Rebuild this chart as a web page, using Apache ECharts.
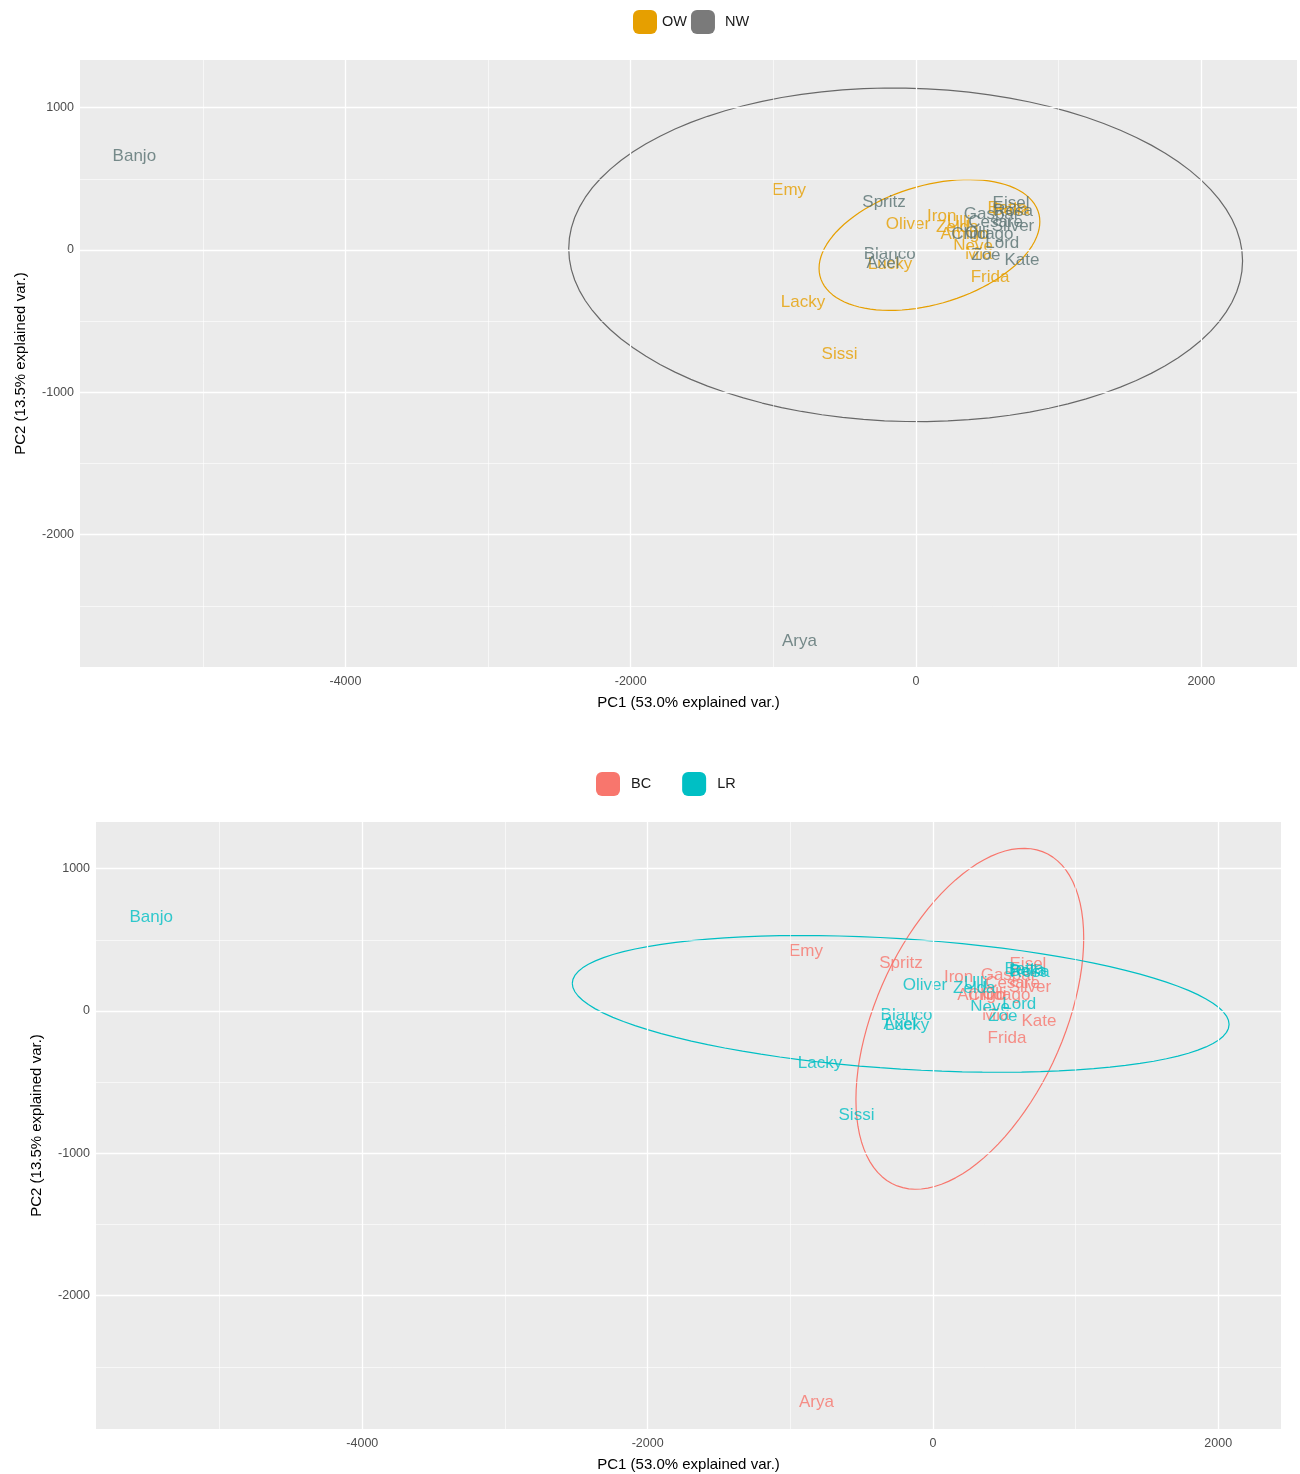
<!DOCTYPE html>
<html>
<head>
<meta charset="utf-8">
<title>PCA biplot</title>
<script src="https://cdn.jsdelivr.net/npm/echarts@6/dist/echarts.min.js"></script>
<style>
  html, body { margin: 0; padding: 0; background: #ffffff; }
  #chart { width: 1300px; height: 1474px; }
</style>
</head>
<body>
<div id="chart"></div>
<script>
// Sample names and their scores on the first two principal components
const names = ['Banjo', 'Arya', 'Emy', 'Spritz', 'Oliver', 'Iron', 'Ulli', 'Zelda', 'Gaspar', 'Eisel',
  'Bella', 'Betta', 'Rosa', 'Cesare', 'Silver', 'Chicago', 'Olli', 'Amigo', 'Lord', 'Neve', 'Mia', 'Zoe',
  'Kate', 'Frida', 'Blanco', 'Axel', 'Lucky', 'Lacky', 'Sissi'];
const pc1 = [-5480, -817, -890, -224, -56, 180, 300, 290, 530, 666,
  666, 640, 680, 558, 680, 465, 430, 340, 605, 400, 440, 490,
  743, 519, -185, -231, -182, -792, -536];
const pc2 = [657, -2750, 422, 337, 183, 240, 195, 158, 253, 325,
  280, 290, 270, 197, 165, 108, 115, 112, 46, 25, -28, -35,
  -70, -190, -28, -95, -100, -365, -731];
// Grouping used in the upper plot
const groupTop = ['NW', 'NW', 'OW', 'NW', 'OW', 'OW', 'OW', 'OW', 'NW', 'NW',
  'OW', 'OW', 'NW', 'NW', 'NW', 'NW', 'NW', 'OW', 'NW', 'OW', 'OW', 'NW',
  'NW', 'OW', 'NW', 'NW', 'OW', 'OW', 'OW'];
// Grouping used in the lower plot
const groupBottom = ['LR', 'BC', 'BC', 'BC', 'LR', 'BC', 'LR', 'LR', 'BC', 'BC',
  'LR', 'LR', 'LR', 'BC', 'BC', 'BC', 'BC', 'BC', 'LR', 'LR', 'BC', 'LR',
  'BC', 'BC', 'LR', 'LR', 'LR', 'LR', 'LR'];

const topLevels = ['OW', 'NW'];
const bottomLevels = ['BC', 'LR'];

// Axis ticks
const xMajorTicks = [-4000, -2000, 0, 2000];
const xMinorTicks = [-5000, -3000, -1000, 1000];
const yMajorTicks = [1000, 0, -1000, -2000];
const yMinorTicks = [500, -500, -1500, -2500];

const colors = {
  OW: { line: '#E69F00', text: '#E69F00', key: '#E69F00' },
  NW: { line: '#686868', text: '#587070', key: '#7A7A7A' },
  BC: { line: '#F8766D', text: '#F8766D', key: '#F8766D' },
  LR: { line: '#00BFC4', text: '#00BFC4', key: '#00BFC4' }
};

const FONT = "'Liberation Sans', Arial, sans-serif";

// Normal-probability ellipse (68%) of a group's scores, as drawn by ggbiplot
function groupEllipse(xs, ys) {
  const n = xs.length;
  const mx = xs.reduce((a, b) => a + b, 0) / n;
  const my = ys.reduce((a, b) => a + b, 0) / n;
  let sxx = 0, syy = 0, sxy = 0;
  for (let i = 0; i < n; i++) {
    sxx += (xs[i] - mx) * (xs[i] - mx);
    syy += (ys[i] - my) * (ys[i] - my);
    sxy += (xs[i] - mx) * (ys[i] - my);
  }
  sxx /= (n - 1); syy /= (n - 1); sxy /= (n - 1);
  const a = Math.sqrt(sxx);
  const b = sxy / a;
  const c = Math.sqrt(Math.max(syy - b * b, 0));
  const ed = Math.sqrt(-2 * Math.log(1 - 0.68));
  const pts = [];
  for (let k = 0; k <= 100; k++) {
    const t = -Math.PI + 2 * Math.PI * k / 100;
    const u = Math.cos(t), v = Math.sin(t);
    pts.push([mx + ed * u * a, my + ed * (u * b + v * c)]);
  }
  return pts;
}

function gridLinesSeries(idx) {
  const lines = [];
  xMajorTicks.forEach(v => lines.push({ xAxis: v, lineStyle: { width: 1.3 } }));
  xMinorTicks.forEach(v => lines.push({ xAxis: v, lineStyle: { width: 0.6 } }));
  yMajorTicks.forEach(v => lines.push({ yAxis: v, lineStyle: { width: 1.3 } }));
  yMinorTicks.forEach(v => lines.push({ yAxis: v, lineStyle: { width: 0.6 } }));
  return {
    type: 'scatter', xAxisIndex: idx, yAxisIndex: idx, z: 1,
    silent: true, symbolSize: 0, data: [],
    markLine: {
      silent: true, symbol: ['none', 'none'], animation: false,
      label: { show: false },
      lineStyle: { color: '#FFFFFF', type: 'solid' },
      data: lines
    }
  };
}

function groupSeries(idx, groups, level) {
  const xs = [], ys = [], items = [];
  for (let i = 0; i < names.length; i++) {
    if (groups[i] !== level) continue;
    xs.push(pc1[i]); ys.push(pc2[i]);
    items.push([pc1[i], pc2[i], names[i]]);
  }
  return [
    {
      name: level, type: 'line', xAxisIndex: idx, yAxisIndex: idx, z: 3,
      data: groupEllipse(xs, ys), showSymbol: false, symbol: 'none', smooth: false,
      silent: true, animation: false,
      lineStyle: { color: colors[level].line, width: 1.2 },
      itemStyle: { color: colors[level].key }
    },
    {
      name: level, type: 'scatter', xAxisIndex: idx, yAxisIndex: idx, z: 4,
      data: items, symbol: 'circle', symbolSize: 1, silent: true, animation: false,
      itemStyle: { color: 'rgba(0,0,0,0)' },
      label: {
        show: true, position: 'inside', formatter: p => p.value[2],
        color: colors[level].text, fontSize: 17, fontFamily: FONT
      }
    }
  ];
}

function xAxisDef(idx, min, max) {
  return {
    type: 'value', gridIndex: idx, min: min, max: max,
    name: 'PC1 (53.0% explained var.)', nameLocation: 'middle', nameGap: 28,
    nameTextStyle: { color: '#000000', fontSize: 15, fontFamily: FONT },
    axisLine: { show: false },
    axisTick: { show: true, customValues: xMajorTicks, length: 4, lineStyle: { color: '#333333', width: 1 } },
    axisLabel: { customValues: xMajorTicks, formatter: v => String(v), color: '#4D4D4D', fontSize: 12.5, fontFamily: FONT, margin: 8 },
    splitLine: { show: false }
  };
}

function yAxisDef(idx, min, max) {
  return {
    type: 'value', gridIndex: idx, min: min, max: max,
    name: 'PC2 (13.5% explained var.)', nameLocation: 'middle', nameGap: 52,
    nameTextStyle: { color: '#000000', fontSize: 15, fontFamily: FONT },
    axisLine: { show: false },
    axisTick: { show: true, customValues: yMajorTicks, length: 4, lineStyle: { color: '#333333', width: 1 } },
    axisLabel: { customValues: yMajorTicks, formatter: v => String(v), color: '#4D4D4D', fontSize: 12.5, fontFamily: FONT, margin: 6 },
    splitLine: { show: false }
  };
}

// textPads: extra space between each key and its text
function legendDef(levels, left, top, gap, textPads) {
  return {
    left: left, top: top, orient: 'horizontal', itemWidth: 24, itemHeight: 24, itemGap: gap,
    selectedMode: false,
    textStyle: { color: '#1A1A1A', fontSize: 14.5, fontFamily: FONT },
    data: levels.map((l, i) => ({
      name: l, icon: 'roundRect', itemStyle: { color: colors[l].key },
      textStyle: { padding: [0, 0, 0, textPads[i]] }
    }))
  };
}

const chart = echarts.init(document.getElementById('chart'), null, { renderer: 'canvas' });

const series = [gridLinesSeries(0), gridLinesSeries(1)];
topLevels.forEach(l => series.push(...groupSeries(0, groupTop, l)));
bottomLevels.forEach(l => series.push(...groupSeries(1, groupBottom, l)));

chart.setOption({
  animation: false,
  backgroundColor: '#FFFFFF',
  legend: [legendDef(topLevels, 628, 5, 4, [0, 5]), legendDef(bottomLevels, 591, 767, 31, [6, 6])],
  grid: [
    { left: 80, top: 60, width: 1217, height: 607, show: true, backgroundColor: '#EBEBEB', borderWidth: 0 },
    { left: 96, top: 822, width: 1185, height: 607, show: true, backgroundColor: '#EBEBEB', borderWidth: 0 }
  ],
  xAxis: [xAxisDef(0, -5861, 2671), xAxisDef(1, -5867, 2440)],
  yAxis: [yAxisDef(0, -2930, 1335), yAxisDef(1, -2937, 1328)],
  series: series
});
</script>
</body>
</html>
